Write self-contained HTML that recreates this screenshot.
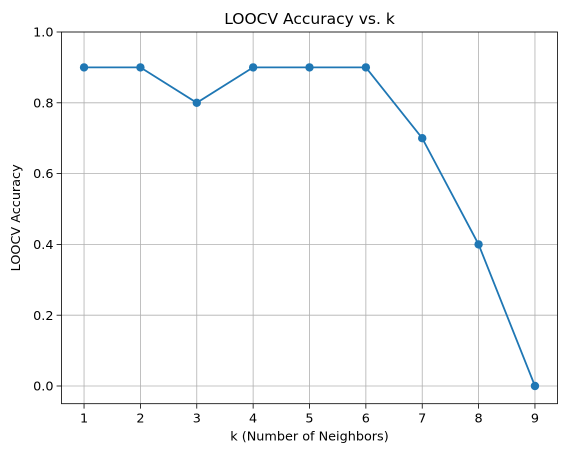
<!DOCTYPE html>
<html><head><meta charset="utf-8"><style>
body{margin:0;background:#fff;font-family:"DejaVu Sans","Liberation Sans",sans-serif}
</style></head><body>
<svg id="chart" width="567" height="455" xmlns="http://www.w3.org/2000/svg" font-family="DejaVu Sans, Liberation Sans, sans-serif"></svg>
<script>
const kValues=[1,2,3,4,5,6,7,8,9];
const accuracy=[0.9,0.9,0.8,0.9,0.9,0.9,0.7,0.4,0.0];
const yTicks=[0.0,0.2,0.4,0.6,0.8,1.0];
const yTickLabels=["0.0","0.2","0.4","0.6","0.8","1.0"];
const L=61.5,R=557.5,T=32,B=403.7;
const xMin=0.6,xMax=9.4,yMin=-0.05,yMax=1.0;
const sx=v=>L+(v-xMin)/(xMax-xMin)*(R-L);
const sy=v=>B-(v-yMin)/(yMax-yMin)*(B-T);
const svg=document.getElementById('chart');
const NS='http://www.w3.org/2000/svg';
function mk(tag,attrs,parent){const e=document.createElementNS(NS,tag);for(const k in attrs)e.setAttribute(k,attrs[k]);(parent||svg).appendChild(e);return e;}
const grid=mk('g',{});


kValues.forEach(k=>{const x=sx(k);
 const g=mk('line',{x1:x,x2:x,y1:T,y2:B,stroke:'#b0b0b0','stroke-width':0.8},grid);
 
 
 const t=mk('line',{x1:x,x2:x,y1:B,y2:B+4.9,stroke:'#000','stroke-width':0.8});
 
 
 const l=mk('text',{x:x,y:B+19,'text-anchor':'middle','font-size':12.8,fill:'#000'});l.textContent=k;
 
 
});
yTicks.forEach((v,i)=>{const y=sy(v);
 const g=mk('line',{x1:L,x2:R,y1:y,y2:y,stroke:'#b0b0b0','stroke-width':0.8},grid);
 
 
 const t=mk('line',{x1:L-4.9,x2:L,y1:y,y2:y,stroke:'#000','stroke-width':0.8});
 
 
 const l=mk('text',{x:L-8,y:y+4.6,'text-anchor':'end','font-size':12.8,fill:'#000'});l.textContent=yTickLabels[i];
 
 
});
const pts=kValues.map((k,i)=>sx(k)+','+sy(accuracy[i])).join(' ');
const line=mk('polyline',{points:pts,fill:'none',stroke:'#1f77b4','stroke-width':1.8});


kValues.forEach((k,i)=>{const c=mk('circle',{cx:sx(k),cy:sy(accuracy[i]),r:4.2,fill:'#1f77b4'});
 
 
});
const frame=mk('rect',{x:L,y:T,width:R-L,height:B-T,fill:'none',stroke:'#000','stroke-width':0.8});


const title=mk('text',{x:(L+R)/2,y:T-8,'text-anchor':'middle','font-size':15.5,fill:'#000'});title.textContent='LOOCV Accuracy vs. k';


const xt=mk('text',{x:(L+R)/2,y:B+37,'text-anchor':'middle','font-size':12.8,fill:'#000'});xt.textContent='k (Number of Neighbors)';


const yt=mk('text',{x:0,y:0,'text-anchor':'middle','font-size':12.8,fill:'#000',transform:`translate(20,${(T+B)/2}) rotate(-90)`});yt.textContent='LOOCV Accuracy';


</script>
</body></html>
